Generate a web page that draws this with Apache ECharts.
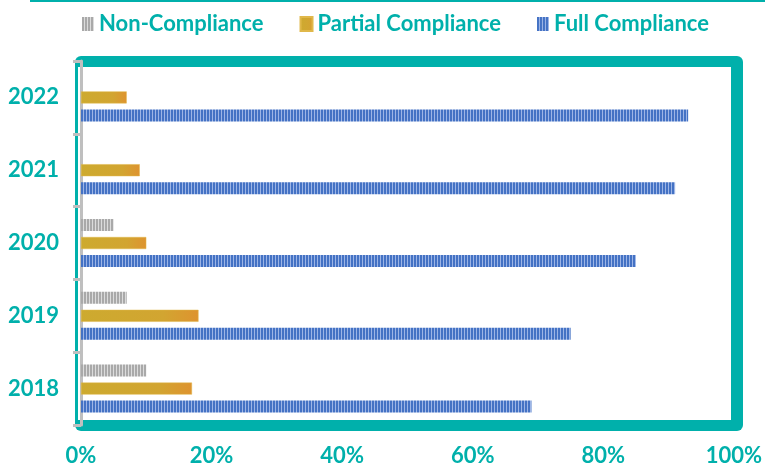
<!DOCTYPE html>
<html><head><meta charset="utf-8">
<script src="https://cdn.jsdelivr.net/npm/echarts@6/dist/echarts.min.js"></script>
<style>html,body{margin:0;padding:0;background:#fff}#c{width:765px;height:467px}</style>
</head><body><div id="c"></div>
<script>
const years = ['2018','2019','2020','2021','2022'];
const nonCompliance = [10, 7, 5, 0, 0];
const partialCompliance = [17, 18, 10, 9, 7];
const fullCompliance = [69, 75, 85, 91, 93];
const xTicks = [0, 20, 40, 60, 80, 100];

const TEAL = '#00B0AB';
function stripes(c1, c2) {
  const cv = document.createElement('canvas');
  cv.width = 3; cv.height = 4;
  const ctx = cv.getContext('2d');
  ctx.fillStyle = c1; ctx.fillRect(0,0,2,4);
  ctx.fillStyle = c2; ctx.fillRect(2,0,1,4);
  return {image: cv, repeat: 'repeat'};
}
const greyPat = stripes('#a9a9a9', '#dcdcdc');
const bluePat = stripes('#4472c4', '#9db5e6');
const goldGrad = new echarts.graphic.LinearGradient(0,0,1,0,[{offset:0,color:'#cdaa2f'},{offset:0.7,color:'#d2a531'},{offset:1,color:'#de932f'}]);

const chart = echarts.init(document.getElementById('c'));
chart.setOption({
  animation: false,
  graphic: [
    {type:'rect', z:-10, shape:{x:30,y:0,width:735,height:2}, style:{fill:TEAL}},
    {type:'rect', z:-10, shape:{x:75,y:56,width:668,height:375,r:6}, style:{fill:TEAL}},
    {type:'rect', z:-9, shape:{x:78,y:67,width:653,height:353}, style:{fill:'#fff'}}
  ],
  legend: {
    top: 8, left: 77, icon: 'rect', itemWidth: 12, itemHeight: 14, itemGap: 36,
    textStyle: {color: TEAL, fontWeight: 'bold', fontSize: 22, fontFamily: 'Lato'}
  },
  grid: {left: 81, top: 61, right: 28, bottom: 41.5, containLabel: false},
  xAxis: {
    type: 'value', min: xTicks[0], max: xTicks[xTicks.length-1], interval: 20,
    axisLine: {show:false}, axisTick:{show:false}, splitLine:{show:false},
    axisLabel: {formatter: '{value}%', color: TEAL, fontWeight:'bold', fontSize: 22, fontFamily:'Lato', margin: 20}
  },
  yAxis: {
    type: 'category', data: years,
    axisLine: {show:true, lineStyle:{color:'#bfbfbf', width:3}},
    axisTick: {show:true, length: 8, lineStyle:{color:'#bfbfbf', width:3}},
    axisLabel: {color: TEAL, fontWeight:'bold', fontSize: 22, fontFamily:'Lato', margin: 22}
  },
  series: [
    {name:'Non-Compliance', type:'bar', data: nonCompliance, barWidth: 12, barGap:'50%', itemStyle:{color: greyPat}},
    {name:'Partial Compliance', type:'bar', data: partialCompliance, barWidth: 12, barGap:'50%', itemStyle:{color: goldGrad, borderColor:'#e0b84a', borderWidth:0.5}},
    {name:'Full Compliance', type:'bar', data: fullCompliance, barWidth: 12, barGap:'50%', itemStyle:{color: bluePat}}
  ]
});
</script></body></html>
